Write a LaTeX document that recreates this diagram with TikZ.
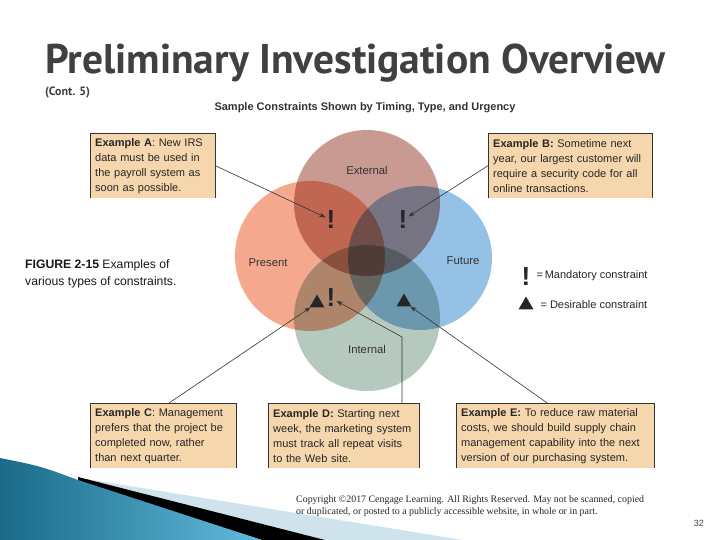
\documentclass[tikz,border=0pt]{standalone}
\usepackage{fontspec}
\setmainfont{Liberation Sans}
\newfontfamily\titlefont[FakeStretch=1.0]{PT Sans}
\newfontfamily\copyfont{Liberation Serif}
\usetikzlibrary{arrows.meta,positioning,calc,shapes.geometric}
\definecolor{boxtan}{HTML}{F6D6AC}
\definecolor{extcol}{HTML}{C99A92}
\definecolor{precol}{HTML}{F4A98F}
\definecolor{futcol}{HTML}{96C1E6}
\definecolor{intcol}{HTML}{B6C9BF}
\definecolor{titlegray}{HTML}{404040}
\definecolor{tealdark}{HTML}{1A6A88}
\definecolor{teallight}{HTML}{62BBDD}
\definecolor{palesky}{HTML}{CFE3EC}
\tikzset{
exbox/.style={fill=boxtan, anchor=north west, align=left, inner xsep=5pt, inner ysep=4pt, minimum height=65pt, text width=#1, font=\fontsize{11}{15}\selectfont, text=black!85},
boxedge/.style={draw=black!80, line width=0.7pt},
ptrarrow/.style={-{Stealth[length=2.2mm,width=1.6mm]}, black!80, line width=0.6pt},
setlabel/.style={font=\fontsize{11.3}{12}\selectfont, text=black!80},
mandmark/.style={font=\bfseries\fontsize{26}{26}\selectfont, inner sep=1pt, text=black!85},
desmark/.style={regular polygon, regular polygon sides=3, fill=black!85, inner sep=0pt, minimum size=17pt},
legendtext/.style={anchor=base west, font=\fontsize{11}{13}\selectfont, text=black!85}
}
\begin{document}
\begin{tikzpicture}[x=1pt,y=-1pt]
\useasboundingbox (0,0) rectangle (720,540);
\fill[white] (0,0) rectangle (720,540);

% headings
\node[anchor=base west, inner sep=0, text=titlegray, font=\titlefont\bfseries\fontsize{41.5}{41.5}\selectfont] (title) at (45,74) {Preliminary Investigation Overview};
\node[anchor=base west, inner sep=0, text=titlegray, font=\titlefont\bfseries\fontsize{12}{12}\selectfont] (cont) at (45,96) {(Cont. 5)};
\node[inner sep=0, text=black!80, font=\bfseries\fontsize{11}{12}\selectfont] (subtitle) at (365,108) {Sample Constraints Shown by Timing, Type, and Urgency};

% overlapping sets
\begin{scope}[blend group=multiply]
\fill[extcol] (367,203) circle (73);
\fill[precol] (310,256) circle (75);
\fill[futcol] (420,258) circle (72);
\fill[intcol] (367,318) circle (73);
\end{scope}
\node[setlabel] (external) at (367,170) {External};
\node[setlabel] (present) at (268,263) {Present};
\node[setlabel] (future) at (463,261) {Future};
\node[setlabel] (internal) at (367,349) {Internal};

% marks
\node[mandmark] (mA) at (331,220) {!};
\node[mandmark] (mB) at (403,220) {!};
\node[mandmark] (mD) at (331,298) {!};
\node[desmark] (tC) at (317,303) {};
\node[desmark] (tE) at (404,302) {};

% legend
\node[mandmark] (legM) at (526,277) {!};
\node[legendtext] (legMtext) at (533,278) {=\,Mandatory constraint};
\node[desmark] (legT) at (526,305) {};
\node[legendtext] (legTtext) at (537,308) {= Desirable constraint};

\node[anchor=north west, align=left, inner sep=0, font=\fontsize{12.2}{17}\selectfont, text=black!90] (figcap) at (25,259) {\textbf{FIGURE 2-15} Examples of\\various types of constraints.};

% example boxes
\node[exbox=115pt] (exA) at (90,133) {\textbf{Example A}: New IRS\\data must be used in\\the payroll system as\\soon as possible.};
\node[exbox=154pt] (exB) at (488,133) {\textbf{Example B:} Sometime next\\year, our largest customer will\\require a security code for all\\online transactions.};
\node[exbox=136pt] (exC) at (90,403) {\textbf{Example C}: Management\\prefers that the project be\\completed now, rather\\than next quarter.};
\node[exbox=141pt] (exD) at (268,403) {\textbf{Example D:} Starting next\\week, the marketing system\\must track all repeat visits\\to the Web site.};
\node[exbox=188pt] (exE) at (456,403) {\textbf{Example E:} To reduce raw material\\costs, we should build supply chain\\management capability into the next\\version of our purchasing system.};
\foreach \b in {exA,exB,exC,exD,exE}
  \draw[boxedge] (\b.south west) |- (\b.north east) -- (\b.south east);

% pointers
\coordinate (dBend) at (402,337);
\draw[ptrarrow] (exA.east) -- (mA);
\draw[ptrarrow] (exB.west) -- (mB);
\draw[ptrarrow] ($(exC.north west)!0.54!(exC.north east)$) -- (tC);
\draw[ptrarrow] (exD.north -| dBend) -- (dBend) -- (mD);
\draw[ptrarrow] ($(exE.north west)!0.46!(exE.north east)$) -- (tE);

% corner decoration
\fill[palesky] (80,478) -- (463,540) -- (325,540) -- cycle;
\fill[black] (78,477) -- (325,540) -- (262,540) -- (78,482) -- cycle;
\shade[shading angle=60, left color=tealdark, right color=teallight] (0,458) .. controls (40,466) .. (78,480) -- (262,540) -- (0,540) -- cycle;

% footer
\node[anchor=base west, align=left, inner sep=0, font=\copyfont\fontsize{9.9}{12}\selectfont, text=black!85] (copyright) at (296,514) {Copyright \textcopyright 2017 Cengage Learning. All Rights Reserved. May not be scanned, copied\\or duplicated, or posted to a publicly accessible website, in whole or in part.};
\node[anchor=base east, inner sep=0, font=\fontsize{9}{10}\selectfont, text=black!75] (pagenum) at (704,526) {32};
\end{tikzpicture}
\end{document}
